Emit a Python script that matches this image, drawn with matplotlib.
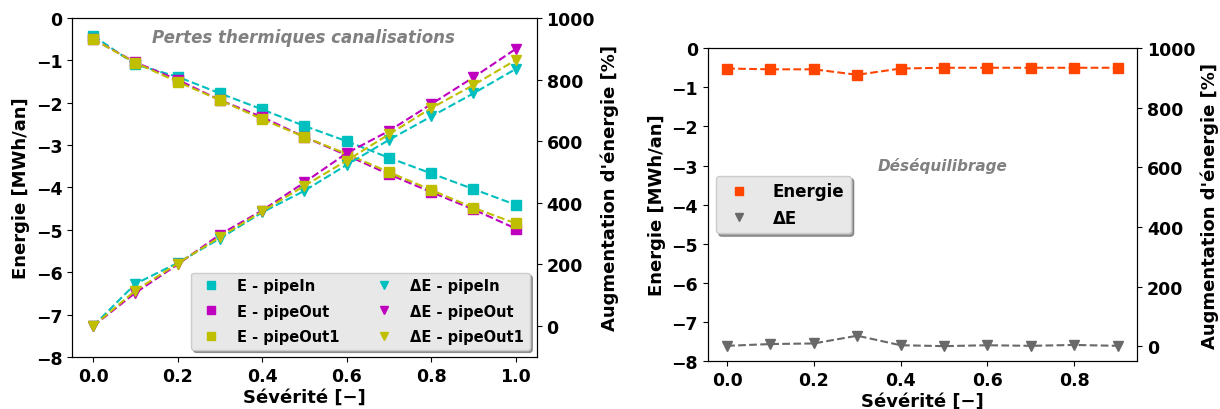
import numpy as np
import matplotlib
matplotlib.use('Agg')
import matplotlib.pyplot as plt

plt.rcParams['font.weight'] = 'bold'
plt.rcParams['axes.labelweight'] = 'bold'

# --- data : pertes thermiques canalisations
sev1 = [0.0, 0.1, 0.2, 0.3, 0.4, 0.5, 0.6, 0.7, 0.8, 0.9, 1.0]
E_pipeIn = [-0.42, -1.10, -1.39, -1.78, -2.16, -2.55, -2.91, -3.30, -3.67, -4.04, -4.41]
E_pipeOut = [-0.50, -1.05, -1.46, -1.94, -2.34, -2.81, -3.24, -3.69, -4.11, -4.52, -4.97]
E_pipeOut1 = [-0.50, -1.06, -1.51, -1.94, -2.39, -2.81, -3.21, -3.64, -4.06, -4.48, -4.85]
dE_pipeIn = [0, 137, 205, 284, 369, 439, 523, 604, 680, 755, 834]
dE_pipeOut = [0, 108, 200, 297, 375, 466, 561, 633, 720, 807, 899]
dE_pipeOut1 = [0, 115, 203, 289, 372, 455, 537, 622, 707, 782, 863]

# --- data : desequilibrage
sev2 = [0.0, 0.1, 0.2, 0.3, 0.4, 0.5, 0.6, 0.7, 0.8, 0.9]
E_deseq = [-0.52, -0.54, -0.54, -0.68, -0.52, -0.50, -0.50, -0.50, -0.50, -0.50]
dE_deseq = [1, 7, 9, 35, 3, 0, 3, 1, 4, 1]

fig = plt.figure(figsize=(12.2, 4.1), dpi=100)

# left plot
ax1 = fig.add_axes([0.059, 0.127, 0.381, 0.827])
ax1b = ax1.twinx()
series = [(E_pipeIn, dE_pipeIn, 'c', 'pipeIn'),
          (E_pipeOut, dE_pipeOut, 'm', 'pipeOut'),
          (E_pipeOut1, dE_pipeOut1, 'y', 'pipeOut1')]
hE, hD = [], []
for E, dE, col, name in series:
    ax1.plot(sev1, E, '--', color=col, lw=1.5)
    h, = ax1.plot(sev1, E, 's', color=col, ms=7, label='E - ' + name)
    hE.append(h)
    ax1b.plot(sev1, dE, '--', color=col, lw=1.5)
    h, = ax1b.plot(sev1, dE, 'v', color=col, ms=7, label='\u0394E - ' + name)
    hD.append(h)
ax1.set_ylim(-8, 0)
ax1b.set_ylim(-100, 1000)
ax1b.set_yticks([0, 200, 400, 600, 800, 1000])
ax1.set_xlabel('Sévérité [\u2212]', fontsize=13, labelpad=2)
ax1.set_ylabel('Energie [MWh/an]', fontsize=13)
ax1b.set_ylabel("Augmentation d'énergie [%]", fontsize=13)
ax1.tick_params(labelsize=12.5)
ax1b.tick_params(labelsize=12.5)
ax1.text(0.497, 0.944, 'Pertes thermiques canalisations', transform=ax1.transAxes,
         ha='center', va='center', color='gray', style='italic', fontsize=12)
ax1b.legend(hE + hD, [h.get_label() for h in hE + hD], ncol=2,
            loc='lower right', fontsize=10.5, markerscale=0.75,
            labelspacing=0.7, columnspacing=2.0,
            shadow=True, facecolor='#e8e8e8', framealpha=1)

# right plot
ax2 = fig.add_axes([0.58, 0.117, 0.352, 0.763])
ax2b = ax2.twinx()
ax2.plot(sev2, E_deseq, '--', color='orangered', lw=1.5)
h1, = ax2.plot(sev2, E_deseq, 's', color='orangered', ms=7, label='Energie')
ax2b.plot(sev2, dE_deseq, '--', color='dimgray', lw=1.5)
h2, = ax2b.plot(sev2, dE_deseq, 'v', color='dimgray', ms=7, label='\u0394E')
ax2.set_ylim(-8, 0)
ax2b.set_ylim(-50, 1000)
ax2b.set_yticks([0, 200, 400, 600, 800, 1000])
ax2.set_xlabel('Sévérité [\u2212]', fontsize=13, labelpad=2)
ax2.set_ylabel('Energie [MWh/an]', fontsize=13)
ax2b.set_ylabel("Augmentation d'énergie [%]", fontsize=13)
ax2.tick_params(labelsize=12.5)
ax2b.tick_params(labelsize=12.5)
ax2.text(0.548, 0.626, 'Déséquilibrage', transform=ax2.transAxes,
         ha='center', va='center', color='gray', style='italic', fontsize=11)
ax2b.legend([h1, h2], ['Energie', '\u0394E'], loc='center left',
            fontsize=12, markerscale=0.75, handletextpad=1.0,
            shadow=True, facecolor='#e8e8e8', framealpha=1)

fig.savefig('out.png', dpi=100)
